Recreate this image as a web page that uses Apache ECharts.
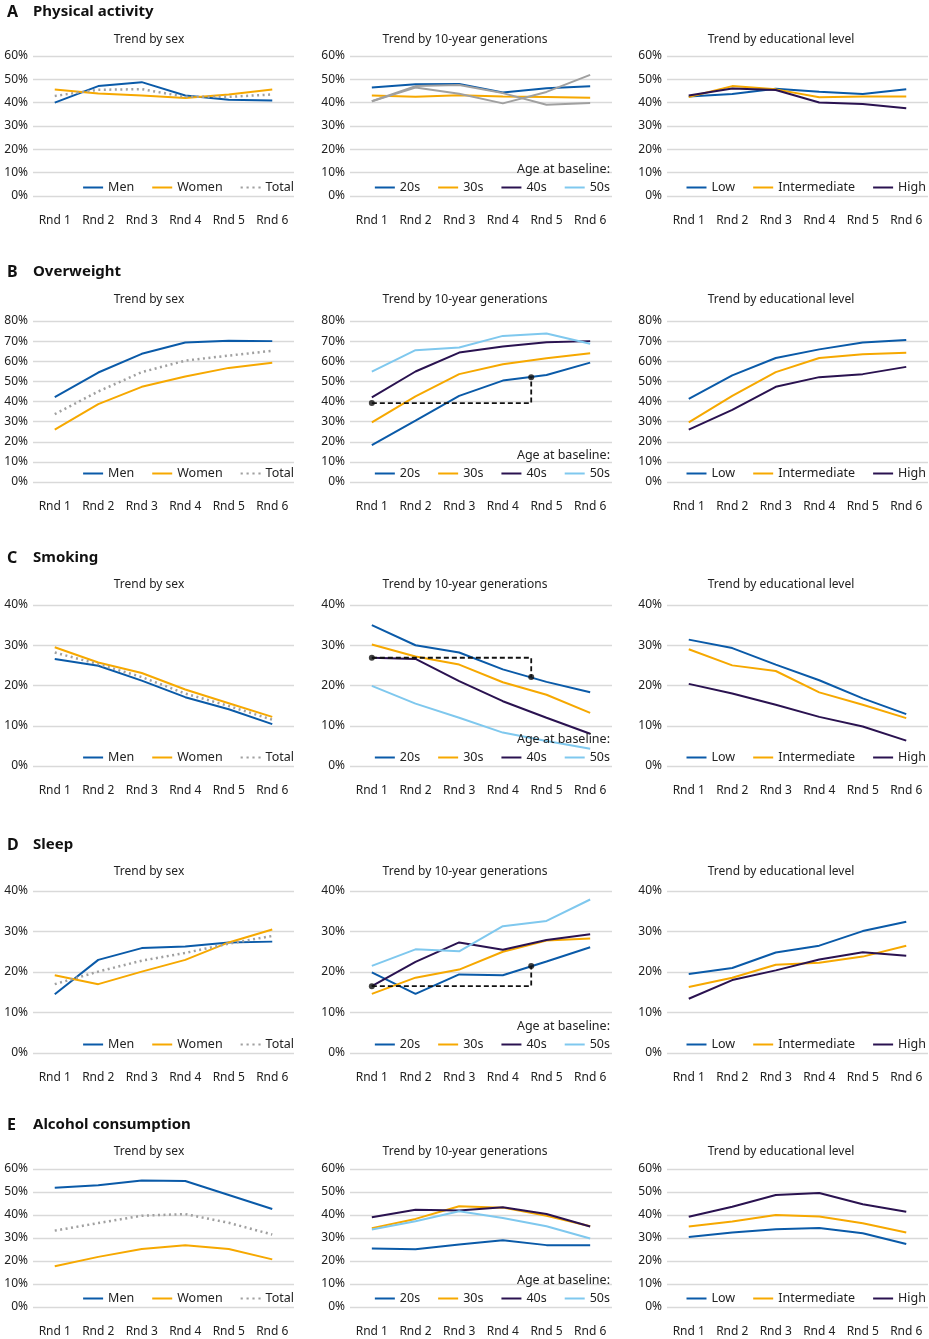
<!DOCTYPE html>
<html><head><meta charset="utf-8">
<script src="https://cdn.jsdelivr.net/npm/echarts@6/dist/echarts.min.js"></script>
<style>html,body{margin:0;padding:0;background:#fff}#c{width:929px;height:1339px}</style>
</head><body><div id="c"></div>
<script>
// ---------- text ----------
const rounds = ['Rnd 1','Rnd 2','Rnd 3','Rnd 4','Rnd 5','Rnd 6'];
const sectionKeys = ['A','B','C','D','E'];
const sectionNames = ['Physical activity','Overweight','Smoking','Sleep','Alcohol consumption'];
const panelTitles = ['Trend by sex','Trend by 10-year generations','Trend by educational level'];
const sexNames = ['Men','Women','Total'];
const genNames = ['20s','30s','40s','50s'];
const eduNames = ['Low','Intermediate','High'];
const ageNote = 'Age at baseline:';
const yMaxes = [60, 80, 40, 40, 60];

// ---------- A: physical activity ----------
const paMen   = [40.0, 47.1, 48.8, 43.1, 41.3, 40.9];
const paWomen = [45.6, 43.9, 43.1, 42.0, 43.5, 45.6];
const paTotal = [42.9, 45.5, 45.8, 42.5, 42.5, 43.5];
const pa20s   = [46.5, 47.9, 48.0, 44.4, 46.2, 47.0];
const pa30s   = [43.1, 42.5, 43.2, 42.6, 42.4, 42.1];
const pa40s   = [40.6, 47.1, 47.6, 44.1, 39.1, 39.9];
const pa50s   = [40.6, 46.5, 43.8, 39.7, 44.6, 51.9];
const paLow   = [42.6, 43.7, 46.0, 44.7, 43.7, 45.7];
const paInter = [42.4, 47.1, 45.7, 42.3, 42.6, 42.6];
const paHigh  = [43.1, 46.1, 45.4, 40.1, 39.4, 37.6];

// ---------- B: overweight ----------
const owMen   = [42.2, 54.4, 63.7, 69.3, 70.2, 70.0];
const owWomen = [26.0, 38.7, 47.3, 52.4, 56.7, 59.2];
const owTotal = [33.7, 45.0, 54.6, 60.3, 62.8, 65.2];
const ow20s   = [18.3, 30.5, 42.8, 50.4, 53.2, 59.3];
const ow30s   = [29.6, 42.5, 53.6, 58.5, 61.5, 64.0];
const ow40s   = [42.0, 54.9, 64.3, 67.3, 69.5, 70.0];
const ow50s   = [54.8, 65.5, 66.8, 72.6, 73.8, 68.7];
const owLow   = [41.3, 53.0, 61.6, 65.9, 69.3, 70.6];
const owInter = [29.6, 42.8, 54.6, 61.6, 63.5, 64.2];
const owHigh  = [26.0, 35.8, 47.3, 52.1, 53.6, 57.2];
const owGuide = [[0, 39.2], [3.65, 39.2], [3.65, 52.0]];

// ---------- C: smoking ----------
const smMen   = [26.6, 24.9, 21.2, 17.1, 14.1, 10.4];
const smWomen = [29.5, 25.7, 23.1, 19.0, 15.6, 12.2];
const smTotal = [28.2, 25.3, 22.1, 18.0, 14.9, 11.5];
const sm20s   = [35.0, 30.0, 28.2, 24.0, 20.9, 18.3];
const sm30s   = [30.2, 27.2, 25.2, 20.8, 17.7, 13.2];
const sm40s   = [26.9, 26.6, 21.1, 16.1, 12.0, 8.0];
const sm50s   = [19.9, 15.5, 12.0, 8.3, 6.2, 4.3];
const smLow   = [31.4, 29.3, 25.2, 21.3, 16.8, 12.9];
const smInter = [29.0, 25.0, 23.6, 18.3, 15.2, 11.9];
const smHigh  = [20.4, 18.0, 15.2, 12.2, 9.8, 6.3];
const smGuide = [[0, 26.9], [3.65, 26.9], [3.65, 22.1]];

// ---------- D: sleep ----------
const slMen   = [14.5, 23.0, 25.9, 26.3, 27.3, 27.5];
const slWomen = [19.2, 17.0, 20.1, 23.0, 27.3, 30.5];
const slTotal = [17.0, 20.1, 22.8, 24.7, 27.0, 28.9];
const sl20s   = [19.9, 14.6, 19.4, 19.2, 22.6, 26.1];
const sl30s   = [14.6, 18.6, 20.6, 25.0, 27.8, 28.3];
const sl40s   = [16.5, 22.5, 27.3, 25.5, 27.9, 29.3];
const sl50s   = [21.5, 25.6, 25.1, 31.3, 32.6, 37.9];
const slLow   = [19.5, 21.0, 24.8, 26.5, 30.1, 32.4];
const slInter = [16.3, 18.6, 21.8, 22.3, 23.8, 26.5];
const slHigh  = [13.4, 18.0, 20.4, 23.1, 24.9, 24.0];
const slGuide = [[0, 16.5], [3.65, 16.5], [3.65, 21.5]];

// ---------- E: alcohol ----------
const alMen   = [51.9, 52.9, 55.0, 54.8, 48.7, 42.6];
const alWomen = [17.7, 21.8, 25.2, 26.9, 25.2, 20.7];
const alTotal = [33.2, 36.5, 39.7, 40.4, 36.6, 31.5];
const al20s   = [25.4, 25.1, 27.2, 29.0, 26.9, 26.9];
const al30s   = [34.3, 38.3, 43.8, 43.2, 39.7, 35.1];
const al40s   = [39.0, 42.3, 42.0, 43.4, 40.4, 35.0];
const al50s   = [33.7, 37.3, 41.6, 38.7, 35.1, 29.8];
const alLow   = [30.4, 32.4, 33.8, 34.3, 32.1, 27.4];
const alInter = [35.0, 37.2, 40.0, 39.3, 36.4, 32.4];
const alHigh  = [39.2, 43.6, 48.7, 49.6, 44.7, 41.4];

// ---------- styling / layout ----------
const FONT = 'Noto Sans';
const TXT = '#222';
const C_BLUE = '#0a5aa8', C_ORANGE = '#f6a800', C_PURPLE = '#2a1250', C_LBLUE = '#7fc8ee', C_GRAY = '#a0a0a0';
const colLeft = [33, 350, 667];
const colWidth = [261, 262, 261];
const colCenter = [149, 465, 781];
const legendRight = [635, 319, 3];
const rowTop = [56, 321, 605, 891, 1169];
const rowHeight = [140, 161, 161, 162, 138];
const sectionTitleY = [10, 270, 556, 843, 1123];
const subTitleY = [38, 298, 583, 870, 1150];
const ICON_LINE = 'path://M0,0H20V2H0Z';
const ICON_DOTS = 'path://M0,0H2.2V2H0Z M5.9,0H8.1V2H5.9Z M11.8,0H14V2H11.8Z M17.8,0H20V2H17.8Z';

const panels = [
  [[paMen, paWomen, paTotal], [pa20s, pa30s, pa40s, pa50s], [paLow, paInter, paHigh]],
  [[owMen, owWomen, owTotal], [ow20s, ow30s, ow40s, ow50s], [owLow, owInter, owHigh]],
  [[smMen, smWomen, smTotal], [sm20s, sm30s, sm40s, sm50s], [smLow, smInter, smHigh]],
  [[slMen, slWomen, slTotal], [sl20s, sl30s, sl40s, sl50s], [slLow, slInter, slHigh]],
  [[alMen, alWomen, alTotal], [al20s, al30s, al40s, al50s], [alLow, alInter, alHigh]]
];
const guides = [null, owGuide, smGuide, slGuide, null];

const namesByCol = [sexNames, genNames, eduNames];
const legendColors = [[C_BLUE, C_ORANGE, C_GRAY], [C_BLUE, C_ORANGE, C_PURPLE, C_LBLUE], [C_BLUE, C_ORANGE, C_PURPLE]];

const grids = [], xAxes = [], yAxes = [], series = [], titles = [], legends = [];

for (let r = 0; r < 5; r++) {
  const top = rowTop[r], h = rowHeight[r], bottom = top + h;
  titles.push({ text: sectionKeys[r], left: 7, top: sectionTitleY[r] - 6, padding: 0,
    textStyle: { fontFamily: FONT, fontSize: 16, fontWeight: 'bold', color: '#111' } });
  titles.push({ text: sectionNames[r], left: 33, top: sectionTitleY[r] - 6, padding: 0,
    textStyle: { fontFamily: FONT, fontSize: 15, fontWeight: 'bold', color: '#111' } });
  for (let c = 0; c < 3; c++) {
    const gi = r * 3 + c;
    grids.push({ left: colLeft[c], top: top, width: colWidth[c], height: h, containLabel: false });
    xAxes.push({ type: 'category', gridIndex: gi, data: rounds, boundaryGap: true,
      axisLine: { show: false }, axisTick: { show: false },
      axisLabel: { margin: 19, interval: 0, fontFamily: FONT, fontSize: 12, color: TXT } });
    yAxes.push({ type: 'value', gridIndex: gi, min: 0, max: yMaxes[r], interval: 10,
      axisLine: { show: false }, axisTick: { show: false },
      axisLabel: { formatter: '{value}%', margin: 5, fontFamily: FONT, fontSize: 12, color: TXT },
      splitLine: { lineStyle: { color: '#d9d9d9', width: 1.3 } } });
    titles.push({ text: panelTitles[c], left: colCenter[c], textAlign: 'center', top: subTitleY[r] - 4, padding: 0,
      textStyle: { fontFamily: FONT, fontSize: 12, fontWeight: 'normal', color: TXT } });
    const names = namesByCol[c];
    const sets = panels[r][c];
    names.forEach((nm, k) => {
      let color = legendColors[c][k];
      const isTotal = (c === 0 && k === 2);
      if (r === 0 && c === 1 && k >= 2) color = C_GRAY; // gray lines in physical-activity generations panel
      series.push({
        type: 'line', name: nm, data: sets[k], xAxisIndex: gi, yAxisIndex: gi,
        symbol: 'none', silent: true, animation: false,
        lineStyle: isTotal ? { color: C_GRAY, width: 2.5, type: [2, 3.5] } : { color: color, width: 2 },
        itemStyle: { color: color }, z: 2
      });
    });
    legends.push({
      right: legendRight[c], top: bottom - 15, padding: 0, itemWidth: 20, itemHeight: 2, itemGap: 18,
      selectedMode: false,
      textStyle: { fontFamily: FONT, fontSize: 12.5, color: TXT },
      data: names.map((nm, k) => ({
        name: nm,
        icon: (c === 0 && k === 2) ? ICON_DOTS : ICON_LINE,
        itemStyle: { color: legendColors[c][k], borderWidth: 0 }
      }))
    });
    if (c === 1) {
      titles.push({ text: ageNote, right: legendRight[c], top: bottom - 33, padding: 0,
        textStyle: { fontFamily: FONT, fontSize: 12.5, fontWeight: 'normal', color: TXT } });
    }
  }
}

// annotation guides on hidden value x-axes aligned to category centers
let vx = xAxes.length;
for (let r = 0; r < 5; r++) {
  if (!guides[r]) continue;
  const gi = r * 3 + 1;
  xAxes.push({ type: 'value', gridIndex: gi, min: -0.5, max: 5.5, show: false });
  series.push({ type: 'line', name: 'guide' + r, data: guides[r], xAxisIndex: vx, yAxisIndex: gi,
    symbol: 'none', silent: true, animation: false, z: 5,
    lineStyle: { color: '#111', width: 1.8, type: [5, 3] } });
  series.push({ type: 'scatter', name: 'guideDots' + r, data: [guides[r][0], guides[r][2]],
    xAxisIndex: vx, yAxisIndex: gi, symbol: 'circle', symbolSize: 6, silent: true, animation: false, z: 6,
    itemStyle: { color: '#111' } });
  vx++;
}

const chart = echarts.init(document.getElementById('c'), null, { renderer: 'canvas' });
chart.setOption({
  backgroundColor: '#fff',
  animation: false,
  title: titles,
  legend: legends,
  grid: grids,
  xAxis: xAxes,
  yAxis: yAxes,
  tooltip: { show: false },
  series: series
});
</script></body></html>
